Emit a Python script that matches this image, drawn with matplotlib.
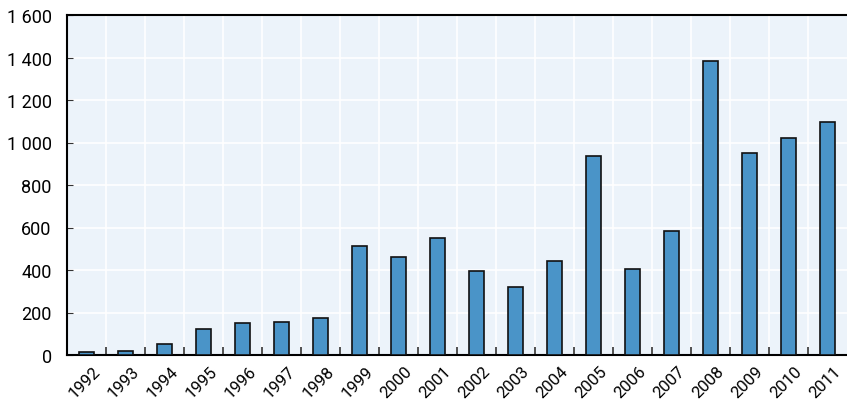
import matplotlib.pyplot as plt
import matplotlib.ticker as mticker
import matplotlib.transforms as mtransforms
import numpy as np

plt.rcParams['font.family'] = ['Roboto', 'DejaVu Sans']

years = ['1992', '1993', '1994', '1995', '1996', '1997', '1998', '1999', '2000', '2001',
         '2002', '2003', '2004', '2005', '2006', '2007', '2008', '2009', '2010', '2011']
values = [12, 18, 52, 122, 150, 157, 174, 514, 463, 549,
          397, 320, 442, 935, 403, 582, 1385, 952, 1021, 1095]

fig = plt.figure(figsize=(8.47, 4.06), dpi=100)
ax = fig.add_axes([67 / 847, 50 / 406, 780 / 847, 340 / 406])
ax.set_facecolor('#ecf3fa')

x = np.arange(len(years))
ax.bar(x, values, width=0.41, color='#4a94c8', edgecolor='#111111', linewidth=1.2, zorder=3)

ax.set_xlim(-0.5, len(years) - 0.5)
ax.set_ylim(0, 1600)
ax.yaxis.set_major_locator(mticker.MultipleLocator(200))
ax.yaxis.set_major_formatter(mticker.FuncFormatter(lambda v, p: '{:,.0f}'.format(v).replace(',', ' ')))

ax.set_xticks(x)
ax.set_xticklabels(years, rotation=45, ha='right', rotation_mode='anchor')
ax.set_xticks(np.arange(len(years) - 1) + 0.5, minor=True)
ax.tick_params(axis='x', which='major', length=0, labelsize=12, pad=6)
ax.tick_params(axis='x', which='minor', direction='in', length=6, width=1.2, color='#333333')
ax.tick_params(axis='y', direction='in', length=4, labelsize=13, pad=11, color='#333333')

# shift the year labels a little to the right, as in the original
shift = mtransforms.ScaledTranslation(6 / 100, 0, fig.dpi_scale_trans)
for lab in ax.get_xticklabels():
    lab.set_transform(lab.get_transform() + shift)

ax.grid(True, axis='y', color='white', linewidth=1.2, zorder=0)
ax.grid(True, axis='x', which='minor', color='white', linewidth=1.2, zorder=0)

for s in ['left', 'top', 'bottom']:
    ax.spines[s].set_color('black')
    ax.spines[s].set_linewidth(1.5)
ax.spines['right'].set_visible(False)

fig.savefig('out.png', dpi=100)
